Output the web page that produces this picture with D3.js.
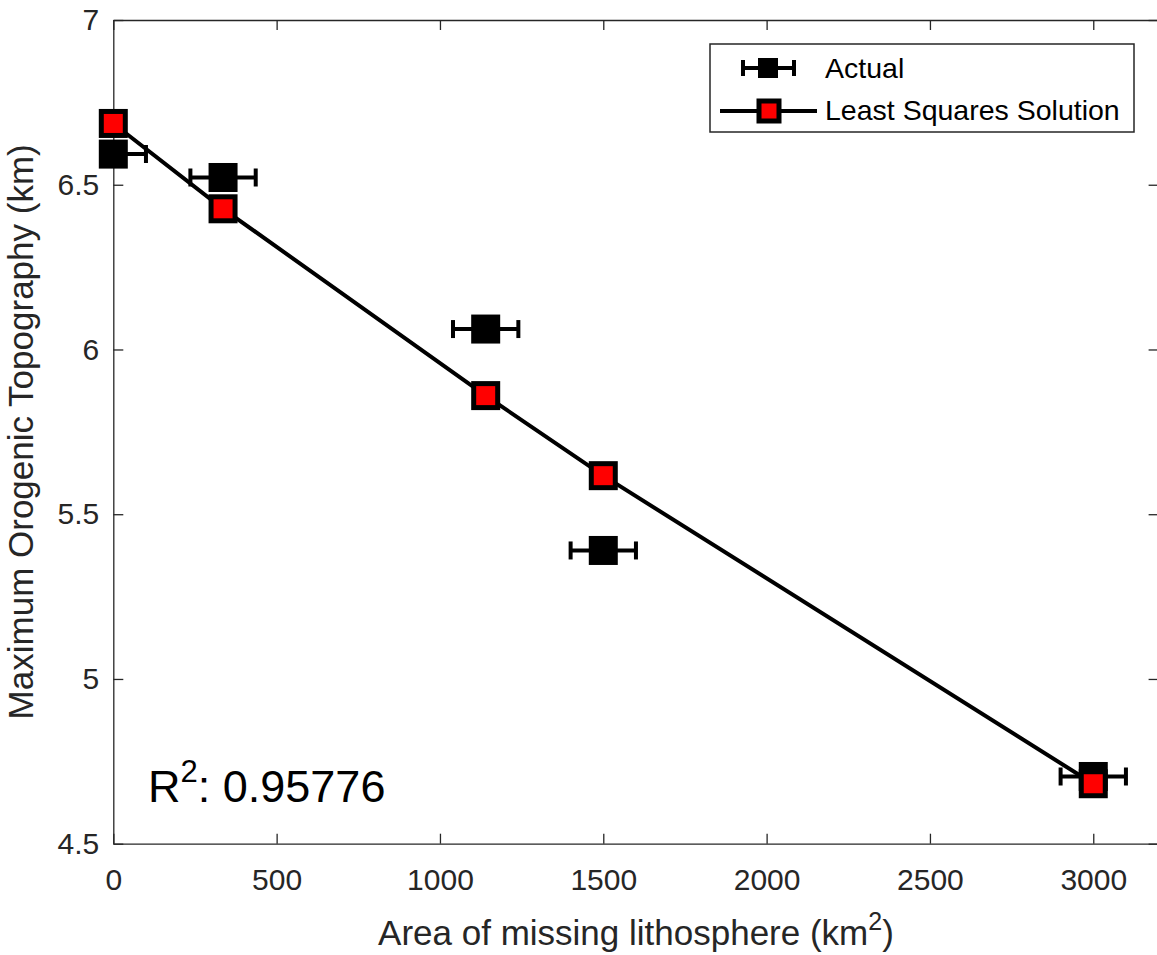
<!DOCTYPE html>
<html>
<head>
<meta charset="utf-8">
<script src="https://cdn.jsdelivr.net/npm/d3@7"></script>
<style>
  body { margin: 0; background: #fff; }
  svg { display: block; font-family: Arial, "Liberation Sans", Helvetica, sans-serif; }
</style>
</head>
<body>
<svg width="1157" height="955"></svg>
<script>
// area of missing lithosphere (km^2) and its uncertainty
const area = [0, 336, 1140, 1500, 3000];
const areaErr = [100, 100, 100, 100, 100];
// maximum orogenic topography (km)
const actualTopo = [6.593, 6.522, 6.062, 5.39, 4.704];
const lsqTopo = [6.686, 6.427, 5.86, 5.617, 4.682];
const xTicks = [0, 500, 1000, 1500, 2000, 2500, 3000];
const yTicks = [4.5, 5, 5.5, 6, 6.5, 7];
const R2 = "0.95776";

const W = 1157, H = 955,
  margin = { top: 20, left: 113.3, right: -1.6, bottom: 111.3 },
  axisColor = "#262626";

const svg = d3.select("svg");

const x = d3.scaleLinear().domain([0, 3200]).range([margin.left, W - margin.right]);
const y = d3.scaleLinear().domain([4.5, 7]).range([H - margin.bottom, margin.top]);

const pts = area.map((a, i) => ({ a: a, err: areaErr[i], act: actualTopo[i], lsq: lsqTopo[i] }));

// clip for errorbars
svg.append("clipPath").attr("id", "plotclip")
  .append("rect")
  .attr("x", x(0)).attr("y", y(7))
  .attr("width", x(3200) - x(0)).attr("height", y(4.5) - y(7));

// axes
function styleAxis(g) {
  g.select(".domain").attr("stroke", axisColor).attr("stroke-width", 1.3);
  g.selectAll(".tick line").attr("stroke", axisColor).attr("stroke-width", 1.3);
  g.selectAll(".tick text").attr("fill", axisColor).attr("font-size", 30);
}

svg.append("g")
  .attr("transform", "translate(0," + y(4.5) + ")")
  .call(d3.axisBottom(x).tickValues(xTicks).tickSizeInner(-10).tickSizeOuter(0).tickPadding(25).tickFormat(d => String(d)))
  .call(styleAxis)
  .attr("font-family", null);

svg.append("g")
  .attr("transform", "translate(0," + y(7) + ")")
  .call(d3.axisTop(x).tickValues(xTicks).tickSizeInner(-10).tickSizeOuter(0).tickFormat(""))
  .call(styleAxis);

svg.append("g")
  .attr("transform", "translate(" + x(0) + ",0)")
  .call(d3.axisLeft(y).tickValues(yTicks).tickSizeInner(-10).tickSizeOuter(0).tickPadding(14).tickFormat(d => String(d)))
  .call(styleAxis)
  .attr("font-family", null);

svg.append("g")
  .attr("transform", "translate(" + x(3200) + ",0)")
  .call(d3.axisRight(y).tickValues(yTicks).tickSizeInner(-10).tickSizeOuter(0).tickFormat(""))
  .call(styleAxis);

// axis labels
svg.append("text")
  .attr("x", (x(0) + x(3200)) / 2)
  .attr("y", 945)
  .attr("text-anchor", "middle")
  .attr("font-size", 35)
  .attr("fill", axisColor)
  .text("Area of missing lithosphere (km")
  .append("tspan").attr("dy", -15).attr("font-size", 25).text("2")
  .select(function() { return this.parentNode; })
  .append("tspan").attr("dy", 15).text(")");

svg.append("text")
  .attr("transform", "rotate(-90)")
  .attr("x", -(y(4.5) + y(7)) / 2)
  .attr("y", 33)
  .attr("text-anchor", "middle")
  .attr("font-size", 35)
  .attr("fill", axisColor)
  .text("Maximum Orogenic Topography (km)");

// actual: errorbars + black squares
const eb = svg.append("g").attr("clip-path", "url(#plotclip)")
  .attr("stroke", "#000").attr("stroke-width", 4);
eb.selectAll(".bar").data(pts).join("line")
  .attr("x1", d => x(d.a - d.err)).attr("x2", d => x(d.a + d.err))
  .attr("y1", d => y(d.act)).attr("y2", d => y(d.act));
eb.selectAll(".capl").data(pts).join("line")
  .attr("x1", d => x(d.a - d.err)).attr("x2", d => x(d.a - d.err))
  .attr("y1", d => y(d.act) - 9).attr("y2", d => y(d.act) + 9);
eb.selectAll(".capr").data(pts).join("line")
  .attr("x1", d => x(d.a + d.err)).attr("x2", d => x(d.a + d.err))
  .attr("y1", d => y(d.act) - 9).attr("y2", d => y(d.act) + 9);

const ms = 29;
svg.append("g").selectAll("rect").data(pts).join("rect")
  .attr("x", d => x(d.a) - ms / 2).attr("y", d => y(d.act) - ms / 2)
  .attr("width", ms).attr("height", ms)
  .attr("fill", "#000");

// least squares line + red squares
svg.append("path").datum(pts)
  .attr("fill", "none").attr("stroke", "#000").attr("stroke-width", 4)
  .attr("d", d3.line().x(d => x(d.a)).y(d => y(d.lsq)));

const rs = 24;
svg.append("g").selectAll("rect").data(pts).join("rect")
  .attr("x", d => x(d.a) - rs / 2).attr("y", d => y(d.lsq) - rs / 2)
  .attr("width", rs).attr("height", rs)
  .attr("fill", "#ff0000").attr("stroke", "#000").attr("stroke-width", 5);

// R^2 annotation
svg.append("text")
  .attr("x", 148).attr("y", 802)
  .attr("font-size", 45).attr("fill", "#000")
  .text("R")
  .append("tspan").attr("dy", -20).attr("font-size", 31).text("2")
  .select(function() { return this.parentNode; })
  .append("tspan").attr("dy", 20).text(": " + R2);

// legend
const lg = svg.append("g");
lg.append("rect")
  .attr("x", 710).attr("y", 44).attr("width", 424).attr("height", 88)
  .attr("fill", "#fff").attr("stroke", axisColor).attr("stroke-width", 1.5);

const ly1 = 68, ly2 = 111;
lg.append("line").attr("x1", 743).attr("x2", 794).attr("y1", ly1).attr("y2", ly1)
  .attr("stroke", "#000").attr("stroke-width", 4);
[743, 794].forEach(cx => lg.append("line")
  .attr("x1", cx).attr("x2", cx).attr("y1", ly1 - 8).attr("y2", ly1 + 8)
  .attr("stroke", "#000").attr("stroke-width", 4));
lg.append("rect").attr("x", 758).attr("y", ly1 - 10).attr("width", 20).attr("height", 20).attr("fill", "#000");

lg.append("line").attr("x1", 720).attr("x2", 817).attr("y1", ly2).attr("y2", ly2)
  .attr("stroke", "#000").attr("stroke-width", 4);
lg.append("rect").attr("x", 759).attr("y", ly2 - 10).attr("width", 20).attr("height", 20)
  .attr("fill", "#ff0000").attr("stroke", "#000").attr("stroke-width", 5);

lg.append("text").attr("x", 825).attr("y", 78).attr("font-size", 28.5).attr("fill", "#000").text("Actual");
lg.append("text").attr("x", 825).attr("y", 120).attr("font-size", 28.5).attr("fill", "#000").text("Least Squares Solution");
</script>
</body>
</html>
